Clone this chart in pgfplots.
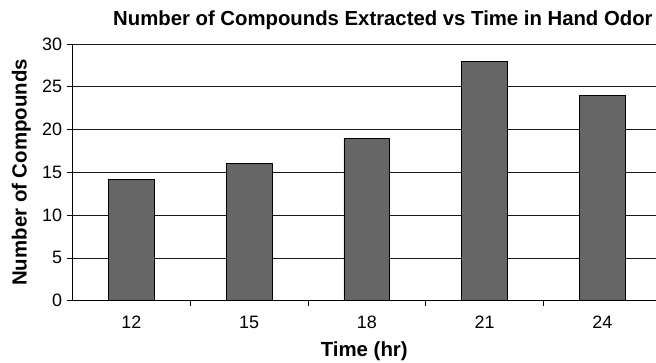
\documentclass[border=0pt]{standalone}
\usepackage{pgfplots}
\pgfplotsset{compat=1.18}
\usepackage{fontspec}
\setmainfont{Liberation Sans}
\definecolor{barfill}{HTML}{666666}
\begin{document}
\begin{tikzpicture}[x=1bp,y=1bp]
\begin{axis}[
  at={(0,0)}, anchor=south west,
  scale only axis,
  width=583.5bp, height=256.7bp,
  xmin=-0.5, xmax=4.455,
  ymin=0, ymax=30,
  ytick={0,5,...,30},
  xtick={0.5,1.5,2.5,3.5},
  xticklabels={},
  extra x ticks={0,1,2,3,4},
  extra x tick labels={12,15,18,21,24},
  extra x tick style={major tick length=0pt, grid=none},
  tick align=outside,
  major tick length=5bp,
  axis x line*=bottom, axis y line*=left,
  axis line style={-, black, line width=0.8pt},
  tick style={black, line width=0.8pt},
  ymajorgrids,
  major grid style={black!90, line width=0.8pt},
  tick label style={font=\fontsize{18}{18}\selectfont},
  /pgf/number format/assume math mode=true,
  xlabel={\textbf{Time (hr)}},
  ylabel={\textbf{Number of Compounds}},
  label style={font=\fontsize{20.5}{20.5}\selectfont},
  xlabel style={at={(axis description cs:0.5,0)}, anchor=north, yshift=-37bp},
  ylabel style={at={(axis description cs:0,0.5)}, anchor=south, yshift=38bp},
  xticklabel style={anchor=base, yshift=-28bp},
  yticklabel style={xshift=-2bp},
  clip=false,
]
\addplot[ybar, bar width=0.39, fill=barfill, draw=black, line width=0.8pt]
  coordinates {(0,14.2) (1,16) (2,19) (3,28) (4,24)};
\node[font=\fontsize{20.4}{20.4}\selectfont\bfseries, anchor=base] at (axis description cs:0.532,1.0) [yshift=18bp] {Number of Compounds Extracted vs Time in Hand Odor};
\end{axis}
\pgfresetboundingbox
\path[use as bounding box] (-72.5bp,-62.3bp) rectangle (583.5bp,300.7bp);
\end{tikzpicture}
\end{document}
